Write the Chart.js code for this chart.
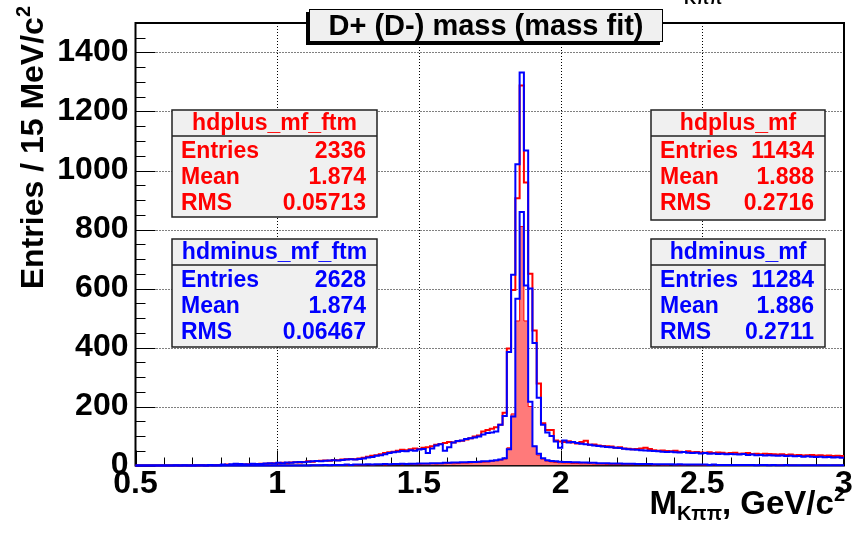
<!DOCTYPE html>
<html>
<head>
<meta charset="utf-8">
<script src="https://cdn.jsdelivr.net/npm/chart.js@4.4.1/dist/chart.umd.min.js"></script>
<style>
html, body { margin: 0; padding: 0; background: #fff; }
#wrap { width: 856px; height: 535px; }
</style>
</head>
<body>
<div id="wrap"><canvas id="c" width="856" height="535"></canvas></div>
<script>
// binning: 166 bins of ~15 MeV between 0.5 and 3.0 GeV
const xLow = 0.5, xHigh = 3.0, nBins = 166;
const binEdges = [];
for (let k = 0; k <= nBins; k++) binEdges.push(xLow + k * (xHigh - xLow) / nBins);

// hdplus_mf (red outline)
const hdplusMf = [
  0,0,0,0,0,0,0,0,0,0,
  0,0,0,1,0,1,0,1,1,2,
  2,3,2,3,4,3,4,5,4,6,
  6,7,8,7,9,8,10,11,10,12,
  14,13,15,16,17,16,19,18,20,21,
  22,21,24,26,30,33,35,38,42,45,
  47,50,53,52,55,58,56,60,62,65,
  70,73,76,80,78,82,84,88,92,98,
  102,115,120,125,130,138,179,397,595,906,
  1288,959,650,458,278,143,120,120,85,81,
  80,82,78,75,80,84,70,71,68,66,
  65,64,60,62,58,57,55,56,58,60,
  56,52,50,51,49,48,50,47,46,48,
  45,46,44,43,45,42,44,43,41,42,
  43,40,41,42,39,40,38,40,39,38,
  37,38,36,37,35,36,34,35,36,34,
  35,33,34,32,33,32
];
// hdminus_mf (blue outline)
const hdminusMf = [
  0,0,0,0,0,0,0,0,0,1,
  0,1,0,0,1,1,0,2,1,1,
  3,2,4,6,5,4,3,6,5,5,
  7,8,7,9,8,10,9,11,12,11,
  13,14,15,14,16,17,18,17,19,20,
  21,20,22,24,27,29,33,35,38,42,
  45,47,49,48,52,50,54,56,42,58,
  68,72,50,62,78,83,85,90,92,95,
  98,105,110,112,115,138,168,385,647,1021,
  1332,1068,600,415,230,138,112,100,81,60,
  85,78,80,76,74,72,70,68,66,64,
  63,62,60,59,57,55,54,53,52,51,
  50,49,48,47,46,47,45,44,46,43,
  42,43,41,42,40,41,39,40,38,39,
  38,37,39,36,37,35,36,34,35,34,
  33,34,32,33,31,32,30,31,30,29,
  30,28,29,27,28,26
];
// hdplus_mf_ftm (red, hatched)
const hdplusMfFtm = [
  0,0,0,0,0,0,0,0,0,0,
  0,0,0,0,0,0,0,0,0,0,
  0,0,0,0,0,0,0,0,0,0,
  0,0,0,0,0,0,0,0,0,0,
  0,1,0,1,1,0,1,2,1,1,
  2,1,2,2,3,2,3,3,2,3,
  3,4,3,4,4,5,4,5,5,6,
  5,6,6,7,6,7,8,8,9,10,
  10,11,12,14,16,18,22,60,175,490,
  810,490,200,65,35,22,15,12,10,9,
  8,8,7,7,6,6,6,5,5,5,
  4,4,4,4,3,3,3,3,3,3,
  3,2,3,2,2,3,2,2,2,3,
  2,2,2,1,2,2,1,2,2,1,
  2,1,1,2,1,1,2,1,1,1,
  1,2,1,1,1,0,1,1,1,0,
  1,1,0,1,1,0
];
// hdminus_mf_ftm (blue outline)
const hdminusMfFtm = [
  0,0,0,0,0,0,0,0,0,0,
  0,0,0,0,0,0,0,0,0,0,
  0,0,0,0,0,0,0,0,0,0,
  0,0,0,0,0,0,0,0,0,0,
  0,1,1,1,2,1,2,2,2,3,
  2,3,3,3,4,3,4,4,5,4,
  5,5,6,5,6,6,7,7,7,8,
  8,8,9,9,10,10,11,11,12,12,
  13,14,14,16,18,20,25,55,166,565,
  859,610,216,65,40,25,18,15,14,13,
  12,12,11,11,10,10,9,9,8,8,
  8,7,7,7,6,6,6,5,5,5,
  5,4,4,4,4,4,3,4,3,3,
  3,3,3,3,2,3,2,2,2,2,
  2,2,2,2,2,1,2,2,1,2,
  1,1,2,1,1,1,1,1,1,1,
  1,1,1,1,1,1
];

const xTicks = [0.5, 1, 1.5, 2, 2.5, 3];
const xTickLabels = ['0.5', '1', '1.5', '2', '2.5', '3'];
const yTicks = [0, 200, 400, 600, 800, 1000, 1200, 1400];

// stats boxes
const statNames = ['hdplus_mf_ftm', 'hdminus_mf_ftm', 'hdplus_mf', 'hdminus_mf'];
const statEntries = ['2336', '2628', '11434', '11284'];
const statMeans = ['1.874', '1.874', '1.888', '1.886'];
const statRms = ['0.05713', '0.06467', '0.2716', '0.2711'];
const statColors = ['#ff0000', '#0000ff', '#ff0000', '#0000ff'];
const statRects = [[172, 110, 205, 107], [172, 239, 205, 108], [651, 110, 174, 110], [651, 239, 174, 108]];

const FONT = '"Liberation Sans", Arial, Helvetica, sans-serif';

function toSteps(vals) {
  const pts = vals.map((v, k) => ({ x: binEdges[k], y: v }));
  pts.push({ x: xHigh, y: vals[vals.length - 1] });
  return pts;
}

const canvas = document.getElementById('c');

function richText(ctx, parts, x, y, align, rot) {
  ctx.save();
  ctx.translate(x, y);
  if (rot) ctx.rotate(rot);
  let total = 0;
  parts.forEach(p => { ctx.font = p.font; p.w = ctx.measureText(p.t).width; total += p.w; });
  let cx = align === 'right' ? -total : (align === 'center' ? -total / 2 : 0);
  ctx.textAlign = 'left';
  ctx.textBaseline = 'alphabetic';
  parts.forEach(p => {
    ctx.font = p.font;
    ctx.fillStyle = p.color || '#000';
    ctx.fillText(p.t, cx, p.dy || 0);
    cx += p.w;
  });
  ctx.restore();
}

function line(ctx, x1, y1, x2, y2) {
  ctx.beginPath(); ctx.moveTo(x1, y1); ctx.lineTo(x2, y2); ctx.stroke();
}

const rootFrame = {
  id: 'rootFrame',
  beforeDraw(chart) {
    const ctx = chart.ctx;
    ctx.save();
    ctx.fillStyle = '#fff';
    ctx.fillRect(0, 0, chart.width, chart.height);
    ctx.restore();
  },
  beforeDatasetsDraw(chart) {
    const { ctx, chartArea: a, scales: { x, y } } = chart;
    ctx.save();
    ctx.strokeStyle = '#000';
    ctx.lineWidth = 1;
    // dotted grid
    ctx.setLineDash([1, 2]);
    xTicks.forEach(v => {
      if (v > xLow && v < xHigh) {
        const px = Math.round(x.getPixelForValue(v)) + 0.5;
        line(ctx, px, a.top, px, a.bottom);
      }
    });
    yTicks.forEach(v => {
      if (v > 0) {
        const py = Math.round(y.getPixelForValue(v)) + 0.5;
        line(ctx, a.left, py, a.right, py);
      }
    });
    ctx.setLineDash([]);
    // ticks on x axis, every 0.1 with majors every 0.5
    for (let i = 5; i <= 30; i++) {
      const px = Math.round(x.getPixelForValue(i / 10)) + 0.5;
      const len = (i % 5 === 0) ? 15 : 8;
      line(ctx, px, a.bottom, px, a.bottom - len);
    }
    // ticks on y axis, every 50 with majors every 200
    for (let i = 0; i <= 30; i++) {
      const py = Math.round(y.getPixelForValue(i * 50)) + 0.5;
      const len = (i % 4 === 0) ? 20 : 10;
      line(ctx, a.left, py, a.left + len, py);
    }
    // frame
    ctx.lineWidth = 2;
    ctx.strokeRect(a.left, a.top, a.right - a.left, a.bottom - a.top);
    ctx.restore();
  },
  afterDatasetsDraw(chart) {
    const { ctx, chartArea: a, scales: { x, y } } = chart;
    ctx.save();
    ctx.fillStyle = '#000';
    // tick labels
    ctx.font = 'bold 32px ' + FONT;
    ctx.textBaseline = 'middle';
    ctx.textAlign = 'right';
    yTicks.forEach(v => ctx.fillText(String(v), a.left - 7, y.getPixelForValue(v)));
    ctx.textAlign = 'center';
    xTicks.forEach((v, i) => ctx.fillText(xTickLabels[i], x.getPixelForValue(v), 484));

    // axis titles
    richText(ctx, [
      { t: 'M', font: 'bold 33px ' + FONT },
      { t: 'K\u03c0\u03c0', font: 'bold 20px ' + FONT, dy: 6 },
      { t: ', GeV/c', font: 'bold 33px ' + FONT },
      { t: '2', font: 'bold 20px ' + FONT, dy: -13 }
    ], 845, 514, 'right');
    richText(ctx, [
      { t: 'Entries / 15 MeV/c', font: 'bold 32px ' + FONT },
      { t: '2', font: 'bold 20px ' + FONT, dy: -13 }
    ], 43, 6, 'right', -Math.PI / 2);

    // clipped fragment at the top
    richText(ctx, [{ t: 'K\u03c0\u03c0', font: 'bold 17px ' + FONT }], 684, 4, 'left');

    // title box
    const tb = [309, 9, 354, 33];
    ctx.fillStyle = '#000';
    ctx.fillRect(tb[0] - 3, tb[1] + 3, tb[2], tb[3]);
    ctx.fillStyle = '#f0f0f0';
    ctx.fillRect(tb[0], tb[1], tb[2], tb[3]);
    ctx.lineWidth = 1;
    ctx.strokeStyle = '#000';
    ctx.strokeRect(tb[0] + 0.5, tb[1] + 0.5, tb[2] - 1, tb[3] - 1);
    ctx.fillStyle = '#000';
    ctx.font = 'bold 29px ' + FONT;
    ctx.textAlign = 'center';
    ctx.textBaseline = 'middle';
    ctx.fillText('D+ (D-) mass (mass fit)', tb[0] + tb[2] / 2, tb[1] + tb[3] / 2 + 1);

    // stats boxes
    statRects.forEach((r, i) => {
      const [bx, by, bw, bh] = r;
      const hh = 26;
      ctx.fillStyle = '#f0f0f0';
      ctx.fillRect(bx, by, bw, bh);
      ctx.strokeStyle = '#222';
      ctx.lineWidth = 1.5;
      ctx.strokeRect(bx, by, bw, bh);
      line(ctx, bx, by + hh, bx + bw, by + hh);
      ctx.fillStyle = statColors[i];
      ctx.font = 'bold 23px ' + FONT;
      ctx.textBaseline = 'middle';
      ctx.textAlign = 'center';
      ctx.fillText(statNames[i], bx + bw / 2, by + hh / 2 + 1);
      const rowY = [by + 42, by + 68, by + 94];
      const labels = ['Entries', 'Mean', 'RMS'];
      const vals = [statEntries[i], statMeans[i], statRms[i]];
      labels.forEach((l, j) => {
        ctx.textAlign = 'left';
        ctx.fillText(l, bx + 9, rowY[j]);
        ctx.textAlign = 'right';
        ctx.fillText(vals[j], bx + bw - 11, rowY[j]);
      });
    });
    ctx.restore();
  }
};

const common = { stepped: true, pointRadius: 0, borderWidth: 2, clip: false, borderJoinStyle: 'miter' };

new Chart(canvas, {
  type: 'line',
  data: {
    datasets: [
      Object.assign({ label: 'hdminus_mf', data: toSteps(hdminusMf), borderColor: '#0000ff', fill: false }, common),
      Object.assign({ label: 'hdminus_mf_ftm', data: toSteps(hdminusMfFtm), borderColor: '#0000ff', fill: false }, common),
      Object.assign({ label: 'hdplus_mf', data: toSteps(hdplusMf), borderColor: '#ff0000', fill: false }, common),
      Object.assign({ label: 'hdplus_mf_ftm', data: toSteps(hdplusMfFtm), borderColor: '#ff0000', backgroundColor: '#ff7a7a', fill: 'origin' }, common, { borderWidth: 1 })
    ]
  },
  options: {
    responsive: false,
    animation: false,
    devicePixelRatio: 1,
    layout: { padding: { left: 135.5, right: 12, top: 23, bottom: 69.5 } },
    plugins: { legend: { display: false }, tooltip: { enabled: false }, title: { display: false } },
    scales: {
      x: { type: 'linear', min: xLow, max: xHigh, display: false },
      y: { min: 0, max: 1500, display: false }
    }
  },
  plugins: [rootFrame]
});
</script>
</body>
</html>
